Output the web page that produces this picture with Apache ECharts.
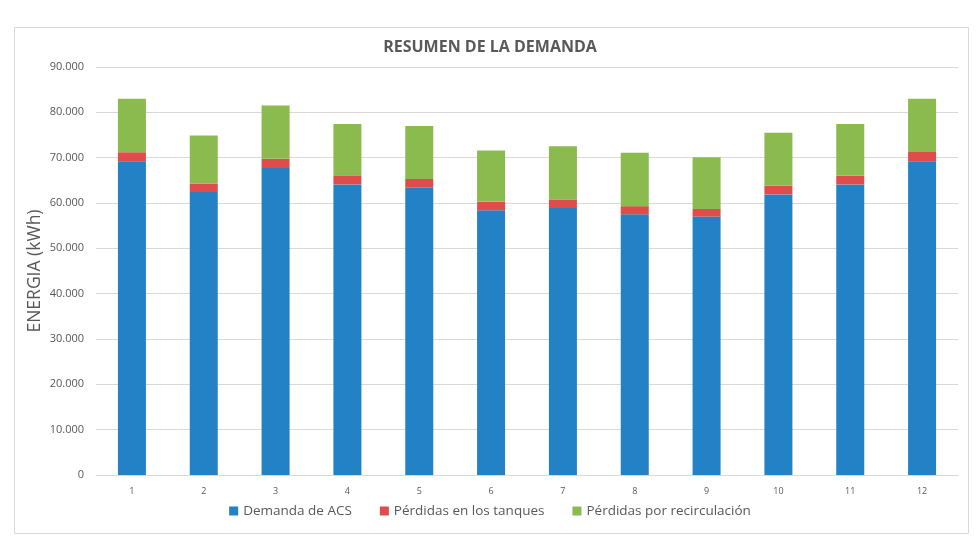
<!DOCTYPE html>
<html>
<head>
<meta charset="utf-8">
<script src="https://cdn.jsdelivr.net/npm/echarts@6/dist/echarts.min.js"></script>
<style>html,body{margin:0;padding:0;background:#fff;}#c{width:980px;height:560px;}</style>
</head>
<body>
<div id="c"></div>
<script>
const categories = ['1','2','3','4','5','6','7','8','9','10','11','12'];
const demandaACS = [69200, 62400, 67700, 64100, 63400, 58400, 58900, 57500, 57000, 61900, 64100, 69200];
const perdidasTanques = [2000, 1900, 2050, 2000, 1900, 1850, 1900, 1800, 1700, 1900, 1900, 2050];
const perdidasRecirculacion = [11800, 10600, 11750, 11300, 11700, 11350, 11700, 11800, 11400, 11700, 11400, 11750];
const yTicks = {min: 0, max: 90000, interval: 10000};

const chart = echarts.init(document.getElementById('c'), null, {renderer: 'canvas'});
const fontFam = '"Open Sans", "Noto Sans", sans-serif';
function fmt(v){ return String(v).replace(/\B(?=(\d{3})+(?!\d))/g, '.'); }
const barCommon = {type: 'bar', stack: 'total', barWidth: 28};
chart.setOption({
  animation: false,
  backgroundColor: '#ffffff',
  graphic: [{
    type: 'rect', left: 12, top: 25, z: -1,
    shape: {width: 954, height: 506},
    style: {fill: 'none', stroke: '#d9d9d9', lineWidth: 1}
  }],
  title: {
    text: 'RESUMEN DE LA DEMANDA', left: 'center', top: 34,
    textStyle: {fontFamily: fontFam, fontSize: 16, fontWeight: 'bold', color: '#595959'}
  },
  grid: {left: 96, right: 22, top: 67, bottom: 85},
  legend: {
    bottom: 37, left: 'center', itemWidth: 9, itemHeight: 9, itemGap: 28,
    icon: 'rect',
    textStyle: {fontFamily: fontFam, fontSize: 13.5, color: '#595959'},
    data: ['Demanda de ACS', 'Pérdidas en los tanques', 'Pérdidas por recirculación']
  },
  xAxis: {
    type: 'category', data: categories,
    axisLine: {lineStyle: {color: '#d9d9d9'}},
    axisTick: {show: false},
    axisLabel: {fontFamily: fontFam, fontSize: 9, color: '#595959', margin: 12}
  },
  yAxis: {
    type: 'value', min: yTicks.min, max: yTicks.max, interval: yTicks.interval,
    name: 'ENERGIA (kWh)', nameLocation: 'middle', nameGap: 52, nameMoveOverlap: false,
    nameTextStyle: {fontFamily: fontFam, fontSize: 17.5, color: '#595959'},
    axisLine: {show: false}, axisTick: {show: false},
    splitLine: {lineStyle: {color: '#d9d9d9'}},
    axisLabel: {fontFamily: fontFam, fontSize: 11, color: '#595959', margin: 12, formatter: fmt}
  },
  series: [
    Object.assign({name: 'Demanda de ACS', data: demandaACS, itemStyle: {color: '#2381c5'}}, barCommon),
    Object.assign({name: 'Pérdidas en los tanques', data: perdidasTanques, itemStyle: {color: '#e04b4b'}}, barCommon),
    Object.assign({name: 'Pérdidas por recirculación', data: perdidasRecirculacion, itemStyle: {color: '#8bbb4e'}}, barCommon)
  ]
});
</script>
</body>
</html>
